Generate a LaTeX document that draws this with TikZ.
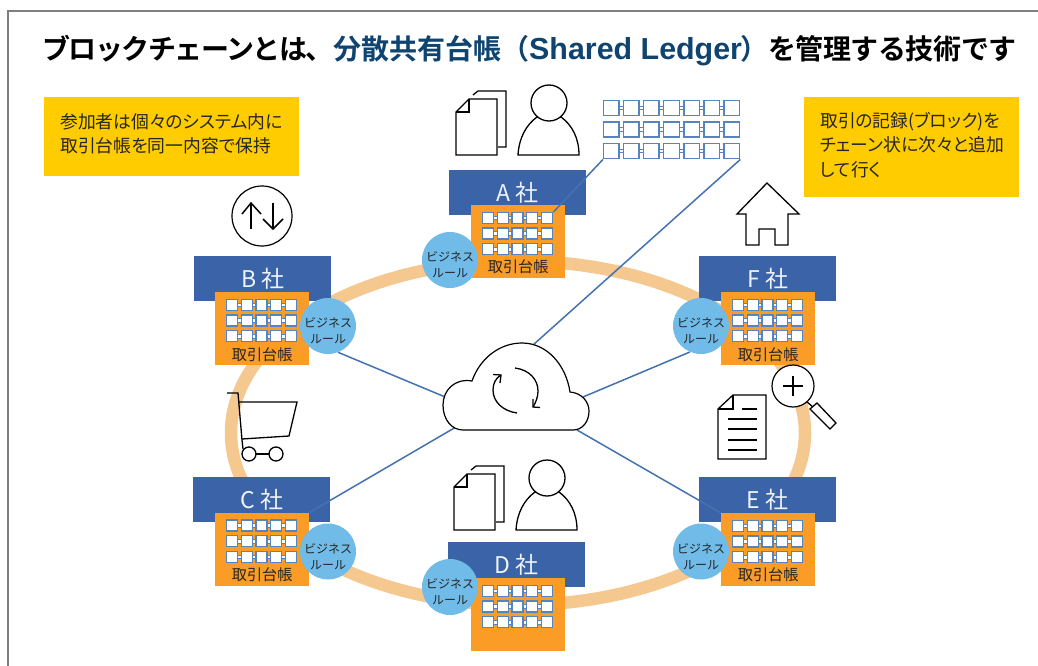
\documentclass[tikz,border=0pt]{standalone}
\usepackage{fontspec}
\setmainfont{Noto Sans CJK JP}
\newfontfamily\titlefont[BoldFont={Noto Sans CJK JP Bold}]{Noto Sans CJK JP}
\newfontfamily\titlelatin{Liberation Sans}
\newfontfamily\notefont[RawFeature=+palt]{Noto Sans CJK JP}
\definecolor{framegray}{HTML}{7F7F7F}
\definecolor{corpblue}{HTML}{3A64A7}
\definecolor{ledgerorange}{HTML}{FA9C26}
\definecolor{rulebubble}{HTML}{70BBE8}
\definecolor{noteyellow}{HTML}{FFCC00}
\definecolor{ringcolor}{HTML}{F5C88F}
\definecolor{linkblue}{HTML}{4472B0}
\definecolor{cellblue}{HTML}{5585BE}
\definecolor{titlenavy}{HTML}{0F4470}
\pgfdeclarelayer{ringlayer}
\pgfdeclarelayer{corplayer}
\pgfdeclarelayer{connlayer}
\pgfsetlayers{ringlayer,corplayer,connlayer,main}
\tikzset{
  corpbox/.style={fill=corpblue,text=white!92!corpblue,minimum width=137pt,minimum height=45pt,inner sep=0pt,anchor=north west,font=\fontsize{23}{24}\selectfont},
  ledgerbox/.style={fill=ledgerorange,minimum width=94pt,minimum height=73pt,inner sep=0pt,anchor=north west},
  ledgertext/.style={inner sep=0pt,text=black!85,font=\fontsize{15.2}{16}\selectfont},
  rulecircle/.style={circle,fill=rulebubble,minimum size=56pt,inner sep=0pt},
  ruletext/.style={inner sep=0pt,align=center,text=black!85,font=\fontsize{12}{16}\selectfont},
  notebox/.style={fill=noteyellow,inner sep=0pt,anchor=north west},
  notetext/.style={inner sep=0pt,anchor=west,align=left,text=black!85,font=\notefont\fontsize{17.8}{24.3}\selectfont},
  conn/.style={draw=linkblue,line width=1.5pt},
  icon/.style={draw=black,line width=1.3pt,line join=miter},
  iconfill/.style={icon,fill=white},
  gridcell/.style={draw=cellblue,fill=white,line width=1.35pt},
  gridlink/.style={draw=cellblue,fill=white,line width=.7pt},
  gridarea/.style={inner sep=0pt,anchor=north west}
}
% name x y cols cellw cellh pitchx pitchy
\newcommand{\ledgergrid}[8]{%
  \node[gridarea,minimum width={(#4-1)*#7*1pt+#5*1pt},minimum height={2*#8*1pt+#6*1pt}] (#1) at (#2,#3) {};
  \begin{scope}[shift={(#2,#3)}]
    \foreach \rr in {0,1,2}{
      \foreach \cc in {1,...,#4}{
        \ifnum\cc<#4\relax
          \path[gridlink] ({(\cc-1)*#7+#5-.5},{\rr*#8+#6/2-1.8}) rectangle ++({#7-#5+1},3.6);
        \fi
        \path[gridcell] ({(\cc-1)*#7+.5},{\rr*#8+.5}) rectangle ++({#5-1},{#6-1});
      }
    }
  \end{scope}}
% id letter bluex bluey orangex orangey bubblex bubbley
\newcommand{\company}[8]{%
  \begin{pgfonlayer}{corplayer}
    \node[corpbox] (corp#1) at (#3,#4) {#2\hspace{5pt}社};
  \end{pgfonlayer}
  \node[ledgerbox] (ledger#1) at (#5,#6) {};
  \ledgergrid{grid#1}{#5+11}{#6+7}{5}{12}{12}{14.75}{15.6}
  \node[rulecircle] (rule#1) at (#7,#8) {};
  \node[ruletext] (ruletext#1) at (#7,#8+5) {ビジネス\\ルール};}
\newcommand{\docpair}[2]{%
  \begin{scope}[shift={(#1,#2)}]
    \draw[icon] (17,-4) -- (22,-8) -- (50,-8) -- (50,48) -- (42,48);
    \path[iconfill] (0,13) -- (13,0) -- (41,0) -- (41,56) -- (0,56) -- cycle;
    \draw[icon] (13,0) -- (13,13) -- (0,13);
  \end{scope}}
\newcommand{\person}[2]{%
  \begin{scope}[shift={(#1,#2)}]
    \path[iconfill] (-31,52) .. controls (-30,35) and (-23,22) .. (-12,14) -- (12,14) .. controls (23,22) and (30,35) .. (30,52) -- cycle;
    \path[iconfill] (0,0) circle (18);
  \end{scope}}
\begin{document}
\begin{tikzpicture}[x=1pt,y=-1pt]
\useasboundingbox (0,0) rectangle (1038,666);
\begin{pgfonlayer}{ringlayer}
  \fill[white] (0,0) rectangle (1038,666);
  \draw[ringcolor,line width=12.5pt] (518,433) ellipse (287 and 172);
\end{pgfonlayer}
\draw[framegray,line width=1.5pt] (1038,11) -- (8,11) -- (8,666);
% title
\node[inner sep=0pt,anchor=west] (title) at (42,50.5) {\titlefont\bfseries\fontsize{28}{32}\selectfont\makebox[291pt][l]{\addfontfeature{LetterSpace=-5.3}ブロックチェーンとは、}\textcolor{titlenavy}{分散共有台帳（{\titlelatin\bfseries\fontsize{30.4}{32}\selectfont Shared Ledger}\hspace{-2pt}）}{\addfontfeature{LetterSpace=-1.5}を管理する技術です}};
% notes
\node[notebox,minimum width=255pt,minimum height=79pt] (noteL) at (44,97) {};
\node[notetext] (noteLtext) at (60,133.5) {参加者は個々のシステム内に\\取引台帳を同一内容で保持};
\node[notebox,minimum width=215pt,minimum height=100pt] (noteR) at (804,97) {};
\node[notetext] (noteRtext) at (820,145) {取引の記録(ブロック)を\\チェーン状に次々と追加\\して行く};
% companies
\company{A}{A}{449}{170}{471}{205}{450}{260}
\company{B}{B}{194}{256}{215}{292}{328}{326}
\company{F}{F}{699}{256}{721}{292}{701}{326}
\company{C}{C}{193}{477}{215}{512.5}{328}{551.5}
\company{E}{E}{699}{477}{721}{513}{701}{551.5}
\company{D}{D}{448}{542}{471}{578}{450}{587}
\node[ledgertext] at (ledgerA.center |- 0,267) {取引台帳};
\node[ledgertext] at (ledgerB.center |- 0,355) {取引台帳};
\node[ledgertext] at (ledgerF.center |- 0,355) {取引台帳};
\node[ledgertext] at (ledgerC.center |- 0,575) {取引台帳};
\node[ledgertext] at (ledgerE.center |- 0,575) {取引台帳};
% big grid
\ledgergrid{bigGrid}{603}{100}{7}{16.5}{16}{20.08}{21.5}
% cloud
\path[iconfill,line width=1.2pt] (463,430) -- (573,430) .. controls (583,430) and (589,421) .. (589,411) .. controls (589,402) and (582,393) .. (570,392) .. controls (566,365) and (547,343) .. (522,343) .. controls (500,343) and (480,358) .. (472,381) .. controls (455,378) and (443,390) .. (443,405) .. controls (443,420) and (452,430) .. (463,430) -- cycle;
\node[inner sep=0pt,minimum width=146pt,minimum height=87pt] (cloud) at (516,386.5) {};
\coordinate (cloudTop) at (533,345);
\coordinate (cloudNW) at (450,399);
\coordinate (cloudSW) at (456,427);
\coordinate (cloudNE) at (583,397);
\coordinate (cloudSE) at (577,430);
\draw[icon] (517,413) .. controls (503,411) and (493,402) .. (493,390) .. controls (493,383) and (496,378) .. (501,375);
\draw[icon] (493,374.5) -- (501,375) -- (500,383);
\draw[icon] (515,368) .. controls (530,370) and (538,380) .. (538,391) .. controls (538,397) and (536,402) .. (533,407);
\draw[icon] (533,399) -- (533,407) -- (540,407.5);
% connectors
\begin{pgfonlayer}{connlayer}
  \draw[conn] (bigGrid.south east) -- (cloudTop);
  \draw[conn] (ruleB.-69) -- (cloudNW);
  \draw[conn] (ledgerC.north east) -- (cloudSW);
  \draw[conn] (ruleF.-113) -- (cloudNE);
  \draw[conn] (ledgerE.north west) -- (cloudSE);
\end{pgfonlayer}
\draw[conn] (bigGrid.south west) -- (gridA.north east);
% icons A and D
\docpair{456}{99}
\person{549}{103}
\docpair{454}{474}
\person{547}{478}
% up-down
\node[draw=black,line width=1.2pt,circle,minimum size=60pt,inner sep=0pt] (updown) at (262,216) {};
\draw[line width=1.5pt] (251,229) -- (251,203);
\draw[line width=1.5pt] (242,214) -- (251,203) -- (261,214);
\draw[line width=1.5pt] (273,203) -- (273,229);
\draw[line width=1.5pt] (263,219) -- (273,229) -- (283,219);
% cart
\draw[icon] (227,393) -- (238,393) -- (242,440) -- (243,449);
\draw[icon] (238,402) -- (297,402) -- (289,436) -- (242,439);
\draw[line width=1.8pt] (256,454) -- (269,454);
\draw[icon] (249,454) circle (7);
\draw[icon] (276,454) circle (7);
% house
\path[iconfill] (767,183) -- (737,214) -- (746,214) -- (746,245) -- (759,245) -- (759,229) -- (775,229) -- (775,245) -- (788,245) -- (788,214) -- (799,214) -- cycle;
% document
\path[iconfill] (718,409) -- (733,395) -- (766,395) -- (766,459) -- (718,459) -- cycle;
\draw[icon] (733,395) -- (733,409) -- (718,409);
\draw[line width=1.5pt] (742,409) -- (757,409);
\draw[line width=1.5pt] (728,419) -- (757,419);
\draw[line width=1.5pt] (728,429) -- (757,429);
\draw[line width=1.5pt] (728,440) -- (757,440);
\draw[line width=1.5pt] (728,450) -- (757,450);
% magnifier
\draw[line width=1.3pt] (807,402) -- (813,407);
\path[iconfill] (810,409) -- (817,403) -- (836,423) -- (830,429) -- cycle;
\node[draw=black,fill=white,line width=1.2pt,circle,minimum size=42pt,inner sep=0pt] (lens) at (793,386) {};
\draw[line width=1.5pt] (783,386) -- (803,386);
\draw[line width=1.5pt] (793,376) -- (793,396);
\end{tikzpicture}
\end{document}
